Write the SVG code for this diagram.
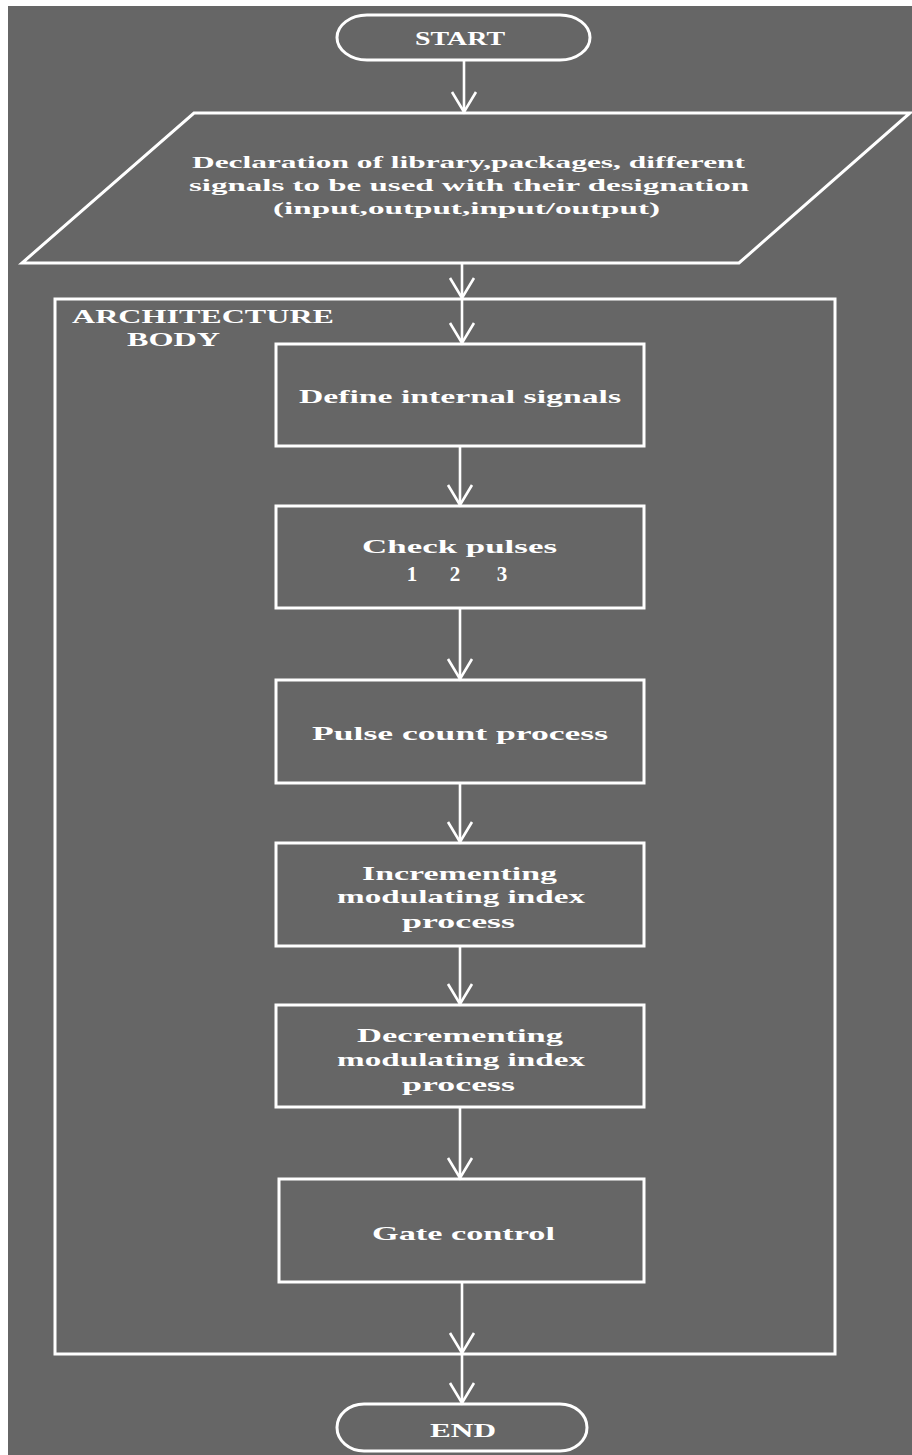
<svg xmlns="http://www.w3.org/2000/svg" width="912" height="1455" viewBox="0 0 912 1455">
<defs>
<style>
.bg{fill:#666666}
.shape{fill:none;stroke:#ffffff;stroke-width:3}
.conn{fill:none;stroke:#ffffff;stroke-width:2.6}
text{fill:#ffffff;font-family:"Liberation Serif","Times New Roman",serif;font-weight:bold;font-size:19px}
.p{font-size:17px}
.c{text-anchor:middle;font-size:21px}
</style>
<marker id="arr" markerUnits="userSpaceOnUse" viewBox="-22 -14 24 28" refX="0" refY="0" markerWidth="24" markerHeight="28" orient="auto" overflow="visible">
<path d="M-20,-12 L0,0 L-20,12" fill="none" stroke="#ffffff" stroke-width="2.6"/>
</marker>
</defs>
<rect x="0" y="0" width="912" height="1455" fill="#ffffff"/>
<rect class="bg" x="8" y="6" width="904" height="1449"/>

<g id="architecture-body">
<rect class="shape" x="55" y="299" width="780" height="1055"/>
<text x="72" y="323" font-size="20" textLength="262" lengthAdjust="spacingAndGlyphs">ARCHITECTURE</text>
<text x="127" y="346" font-size="20" textLength="93" lengthAdjust="spacingAndGlyphs">BODY</text>
</g>

<g id="start">
<rect class="shape" x="337" y="15" width="253" height="45" rx="30" ry="22.5"/>
<text x="415" y="45" textLength="90" lengthAdjust="spacingAndGlyphs">START</text>
</g>

<g id="declaration">
<polygon class="shape" points="194,113 910,113 739,263 22,263"/>
<text class="p" x="192" y="168" textLength="553" lengthAdjust="spacingAndGlyphs">Declaration of library,packages, different</text>
<text class="p" x="189" y="191" textLength="560" lengthAdjust="spacingAndGlyphs">signals to be used with their designation</text>
<text class="p" x="273" y="214" textLength="387" lengthAdjust="spacingAndGlyphs">(input,output,input/output)</text>
</g>

<g id="define">
<rect class="shape" x="276" y="344" width="368" height="102"/>
<text x="299" y="403" textLength="322" lengthAdjust="spacingAndGlyphs">Define internal signals</text>
</g>

<g id="check">
<rect class="shape" x="276" y="506" width="368" height="102"/>
<text x="362" y="553" textLength="195" lengthAdjust="spacingAndGlyphs">Check pulses</text>
<text class="c" x="412" y="581">1</text>
<text class="c" x="455" y="581">2</text>
<text class="c" x="502" y="581">3</text>
</g>

<g id="pulse-count">
<rect class="shape" x="276" y="680" width="368" height="103"/>
<text x="312" y="740" textLength="296" lengthAdjust="spacingAndGlyphs">Pulse count process</text>
</g>

<g id="incrementing">
<rect class="shape" x="276" y="843" width="368" height="103"/>
<text x="362" y="880" textLength="195" lengthAdjust="spacingAndGlyphs">Incrementing</text>
<text x="337" y="903" textLength="248" lengthAdjust="spacingAndGlyphs">modulating index</text>
<text x="402" y="928" textLength="113" lengthAdjust="spacingAndGlyphs">process</text>
</g>

<g id="decrementing">
<rect class="shape" x="276" y="1005" width="368" height="102"/>
<text x="357" y="1042" textLength="206" lengthAdjust="spacingAndGlyphs">Decrementing</text>
<text x="337" y="1066" textLength="248" lengthAdjust="spacingAndGlyphs">modulating index</text>
<text x="402" y="1091" textLength="113" lengthAdjust="spacingAndGlyphs">process</text>
</g>

<g id="gate-control">
<rect class="shape" x="279" y="1179" width="365" height="103"/>
<text x="372" y="1240" textLength="183" lengthAdjust="spacingAndGlyphs">Gate control</text>
</g>

<g id="end">
<rect class="shape" x="337" y="1404" width="250" height="47" rx="27" ry="23.5"/>
<text x="430" y="1437" textLength="66" lengthAdjust="spacingAndGlyphs">END</text>
</g>

<g id="connectors">
<line class="conn" x1="464" y1="60" x2="464" y2="112" marker-end="url(#arr)"/>
<line class="conn" x1="462" y1="263" x2="462" y2="298" marker-end="url(#arr)"/>
<line class="conn" x1="462" y1="299" x2="462" y2="343" marker-end="url(#arr)"/>
<line class="conn" x1="460" y1="446" x2="460" y2="505" marker-end="url(#arr)"/>
<line class="conn" x1="460" y1="608" x2="460" y2="679" marker-end="url(#arr)"/>
<line class="conn" x1="460" y1="783" x2="460" y2="842" marker-end="url(#arr)"/>
<line class="conn" x1="460" y1="946" x2="460" y2="1004" marker-end="url(#arr)"/>
<line class="conn" x1="460" y1="1107" x2="460" y2="1178" marker-end="url(#arr)"/>
<line class="conn" x1="462" y1="1282" x2="462" y2="1353" marker-end="url(#arr)"/>
<line class="conn" x1="462" y1="1354" x2="462" y2="1403" marker-end="url(#arr)"/>
</g>
</svg>
